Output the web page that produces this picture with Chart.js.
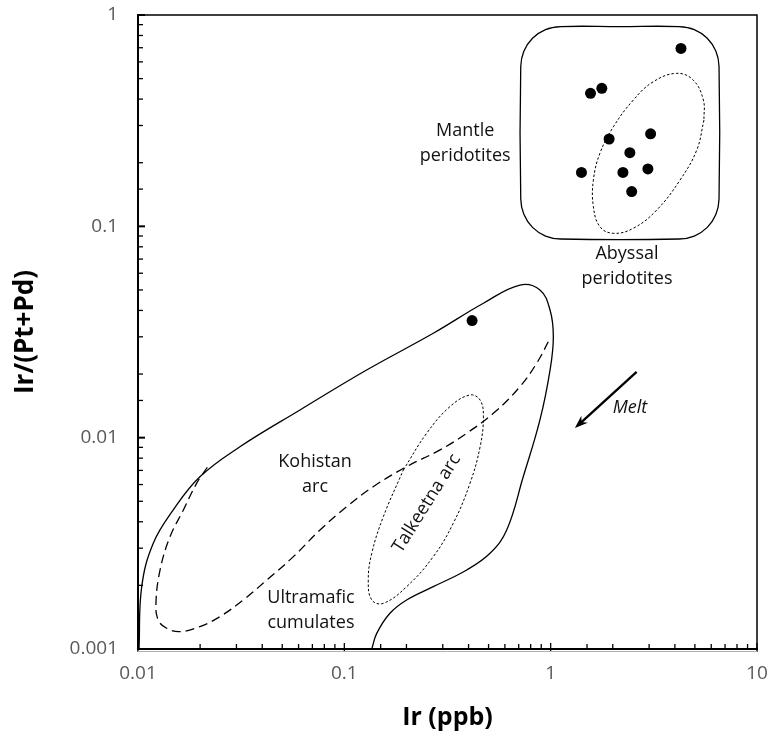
<!DOCTYPE html>
<html>
<head>
<meta charset="utf-8">
<script src="https://cdn.jsdelivr.net/npm/chart.js@4.4.1/dist/chart.umd.min.js"></script>
<style>
  html, body { margin: 0; padding: 0; background: #fff; }
</style>
</head>
<body>
<canvas id="myChart" width="771" height="741"></canvas>
<script>
// samples
const irPpb   = [4.28, 1.56, 1.77, 1.92, 3.05, 2.42, 1.41, 2.24, 2.96, 2.47, 0.416];
const irRatio = [0.695, 0.426, 0.450, 0.259, 0.274, 0.223, 0.180, 0.180, 0.187, 0.146, 0.0358];

const xTickLabels = ['0.01', '0.1', '1', '10'];
const yTickLabels = ['0.001', '0.01', '0.1', '1'];

// field outlines, digitised as [log10 Ir, log10 Ir/(Pt+Pd)]
const mantleField = [
    [0.335, -0.055], [0.622, -0.055], [0.696, -0.069], [0.759, -0.110], [0.801, -0.172],
    [0.816, -0.244], [0.816, -0.871], [0.801, -0.943], [0.759, -1.005], [0.696, -1.046],
    [0.622, -1.060], [0.049, -1.060], [-0.025, -1.046], [-0.088, -1.005], [-0.130, -0.943],
    [-0.145, -0.871], [-0.145, -0.244], [-0.130, -0.172], [-0.088, -0.110], [-0.025, -0.069],
    [0.049, -0.055], [0.335, -0.055]
];
const abyssalField = [
    [0.743, -0.497], [0.708, -0.639], [0.627, -0.781], [0.514, -0.923], [0.401, -1.009],
    [0.304, -1.033], [0.239, -1.002], [0.207, -0.907], [0.207, -0.781], [0.239, -0.654],
    [0.304, -0.529], [0.401, -0.402], [0.497, -0.316], [0.611, -0.276], [0.691, -0.308],
    [0.740, -0.402], [0.743, -0.497]
];
const kohistanField = [
    [-1.995, -3.0], [-1.982, -2.705], [-1.926, -2.500], [-1.829, -2.342], [-1.700, -2.185],
    [-1.506, -2.043], [-1.215, -1.869], [-0.892, -1.680], [-0.569, -1.506], [-0.326, -1.364],
    [-0.149, -1.278], [-0.052, -1.301], [-0.003, -1.396], [0.013, -1.522], [-0.003, -1.680],
    [-0.052, -1.916], [-0.133, -2.185], [-0.213, -2.437], [-0.294, -2.547], [-0.407, -2.626],
    [-0.569, -2.705], [-0.698, -2.768], [-0.779, -2.831], [-0.843, -2.926], [-0.867, -3.0]
];
const kohistanArc = [
    [-1.664, -2.140], [-1.716, -2.216], [-1.780, -2.342], [-1.845, -2.469], [-1.893, -2.626],
    [-1.913, -2.784], [-1.902, -2.863], [-1.861, -2.902], [-1.796, -2.918], [-1.700, -2.894],
    [-1.603, -2.847], [-1.490, -2.768], [-1.376, -2.674], [-1.247, -2.563], [-1.118, -2.437],
    [-0.989, -2.327], [-0.860, -2.232], [-0.698, -2.137], [-0.536, -2.058], [-0.407, -1.979],
    [-0.278, -1.885], [-0.149, -1.759], [-0.068, -1.648], [-0.003, -1.530]
];
const talkeetnaField = [
    [-0.714, -2.153], [-0.601, -1.979], [-0.488, -1.853], [-0.391, -1.798], [-0.342, -1.822],
    [-0.326, -1.901], [-0.342, -2.043], [-0.391, -2.216], [-0.472, -2.405], [-0.569, -2.563],
    [-0.698, -2.705], [-0.811, -2.784], [-0.867, -2.768], [-0.884, -2.674], [-0.867, -2.547],
    [-0.811, -2.374], [-0.714, -2.153]
];

const meltArrow = [[2.61, 0.0205], [1.31, 0.0111]];
const fieldLabels = [
    { lines: ['Mantle', 'peridotites'], x: 0.385, y: 0.248 },
    { lines: ['Abyssal', 'peridotites'], x: 2.344, y: 0.0644 },
    { lines: ['Kohistan', 'arc'], x: 0.0721, y: 0.00673 },
    { lines: ['Ultramafic', 'cumulates'], x: 0.0689, y: 0.00152 },
    { lines: ['Talkeetna arc'], x: 0.2506, y: 0.00489, rotate: -58 },
    { lines: ['Melt'], x: 2.424, y: 0.0138, italic: true }
];

const toXY = p => ({ x: Math.pow(10, p[0]), y: Math.pow(10, p[1]) });

function outline(data, dash, width) {
    return {
        data: data.map(toXY),
        showLine: true,
        borderColor: '#000',
        borderWidth: width,
        borderDash: dash,
        pointRadius: 0,
        tension: 0.4,
        fill: false
    };
}

function isDecade(v) {
    const l = Math.log10(v);
    return Math.abs(l - Math.round(l)) < 1e-6;
}

const frame = {
    id: 'frame',
    afterDraw(chart) {
        const { ctx, chartArea: a, scales } = chart;
        ctx.save();
        ctx.strokeStyle = '#000';
        ctx.lineWidth = 1.3;
        scales.x.ticks.forEach(t => {
            const px = scales.x.getPixelForValue(t.value);
            const major = isDecade(t.value);
            ctx.beginPath();
            ctx.moveTo(px, a.bottom + (major ? 3 : 0));
            ctx.lineTo(px, a.bottom - (major ? 6 : 5));
            ctx.stroke();
        });
        scales.y.ticks.forEach(t => {
            const py = scales.y.getPixelForValue(t.value);
            const major = isDecade(t.value);
            ctx.lineWidth = major ? 2 : 1.3;
            ctx.beginPath();
            ctx.moveTo(a.left, py);
            ctx.lineTo(a.left + (major ? 7 : 5), py);
            ctx.stroke();
        });
        ctx.lineWidth = 1.5;
        ctx.strokeRect(a.left, a.top, a.right - a.left, a.bottom - a.top);
        ctx.strokeStyle = '#b0b0b0';
        ctx.lineWidth = 1;
        ctx.beginPath();
        ctx.moveTo(a.left, a.bottom + 2.5);
        ctx.lineTo(a.right, a.bottom + 2.5);
        ctx.stroke();
        ctx.restore();
    }
};

const notes = {
    id: 'notes',
    afterDatasetsDraw(chart) {
        const { ctx, scales } = chart;
        ctx.save();
        ctx.fillStyle = '#111';
        ctx.textAlign = 'center';
        ctx.textBaseline = 'middle';
        fieldLabels.forEach(l => {
            const px = scales.x.getPixelForValue(l.x);
            const py = scales.y.getPixelForValue(l.y);
            ctx.save();
            ctx.translate(px, py);
            if (l.rotate) ctx.rotate(l.rotate * Math.PI / 180);
            ctx.font = (l.italic ? 'italic ' : '') + '18px "Open Sans"';
            const h = 25;
            l.lines.forEach((s, i) => {
                ctx.fillText(s, 0, (i - (l.lines.length - 1) / 2) * h);
            });
            ctx.restore();
        });

        // melt arrow
        const x1 = scales.x.getPixelForValue(meltArrow[0][0]);
        const y1 = scales.y.getPixelForValue(meltArrow[0][1]);
        const x2 = scales.x.getPixelForValue(meltArrow[1][0]);
        const y2 = scales.y.getPixelForValue(meltArrow[1][1]);
        const ang = Math.atan2(y2 - y1, x2 - x1);
        ctx.strokeStyle = '#000';
        ctx.lineWidth = 2.3;
        ctx.beginPath();
        ctx.moveTo(x1, y1);
        ctx.lineTo(x2 - 6 * Math.cos(ang), y2 - 6 * Math.sin(ang));
        ctx.stroke();
        ctx.fillStyle = '#000';
        ctx.beginPath();
        ctx.moveTo(x2, y2);
        ctx.lineTo(x2 - 14 * Math.cos(ang - 0.35), y2 - 14 * Math.sin(ang - 0.35));
        ctx.lineTo(x2 - 9 * Math.cos(ang), y2 - 9 * Math.sin(ang));
        ctx.lineTo(x2 - 14 * Math.cos(ang + 0.35), y2 - 14 * Math.sin(ang + 0.35));
        ctx.closePath();
        ctx.fill();
        ctx.restore();
    }
};

const ctx = document.getElementById('myChart');

const myChart = new Chart(ctx, {
    type: 'scatter',
    data: {
        datasets: [
            outline(mantleField, [], 1.3),
            outline(abyssalField, [2.5, 2], 1),
            outline(kohistanField, [], 1.3),
            outline(kohistanArc, [9, 5], 1.3),
            outline(talkeetnaField, [2.5, 2], 1),
            {
                data: irPpb.map((v, i) => ({ x: v, y: irRatio[i] })),
                pointRadius: 5.5,
                pointBackgroundColor: '#000',
                pointBorderColor: '#000',
                pointBorderWidth: 0
            }
        ]
    },
    options: {
        responsive: false,
        animation: false,
        layout: { padding: { top: 15, right: 14, left: 0, bottom: 0 } },
        plugins: { legend: { display: false }, tooltip: { enabled: false } },
        scales: {
            x: {
                type: 'logarithmic',
                min: 0.01,
                max: 10,
                afterFit: s => { s.height = 92; s.paddingLeft = 0; s.paddingRight = 0; },
                grid: { display: false, drawTicks: false },
                border: { display: true, color: '#000', width: 2 },
                ticks: {
                    autoSkip: false,
                    maxRotation: 0,
                    padding: 13,
                    color: '#595959',
                    font: { family: 'Open Sans', size: 19 },
                    callback: v => xTickLabels.includes(String(v)) ? String(v) : ''
                },
                title: {
                    display: true,
                    text: 'Ir (ppb)',
                    color: '#000',
                    font: { family: 'Open Sans', size: 25, weight: 'bold' },
                    padding: { top: 0, bottom: 8 }
                }
            },
            y: {
                type: 'logarithmic',
                min: 0.001,
                max: 1,
                afterFit: s => { s.width = 138; s.paddingTop = 0; s.paddingBottom = 0; },
                grid: { display: false, drawTicks: false },
                border: { display: true, color: '#000', width: 2 },
                ticks: {
                    autoSkip: false,
                    padding: 20,
                    color: '#595959',
                    font: { family: 'Open Sans', size: 19 },
                    callback: v => yTickLabels.includes(String(v)) ? String(v) : ''
                },
                title: {
                    display: true,
                    text: 'Ir/(Pt+Pd)',
                    color: '#000',
                    font: { family: 'Open Sans', size: 26, weight: 'bold' },
                    padding: { top: 10, bottom: 0 }
                }
            }
        }
    },
    plugins: [frame, notes]
});
</script>
</body>
</html>
